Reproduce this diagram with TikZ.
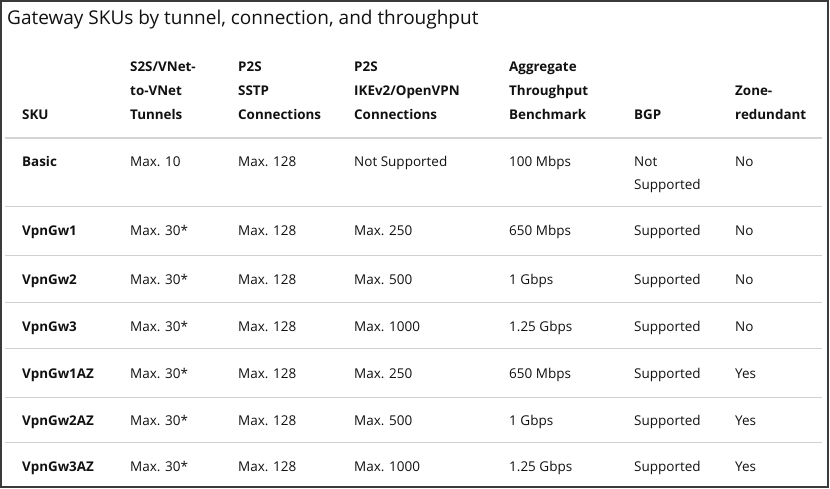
\documentclass[tikz,border=0pt]{standalone}
\usepackage{fontspec}
\setmainfont{Open Sans}
\definecolor{frame}{HTML}{3A3A3A}
\definecolor{hdrline}{HTML}{D4D4D4}
\definecolor{rowline}{HTML}{D0D0D0}
\definecolor{txt}{HTML}{111111}
\begin{document}
\begin{tikzpicture}[x=1pt,y=-1pt,
  cell/.style={anchor=base west,inner sep=0pt,text=txt,font=\fontsize{13.5}{24}\selectfont},
  hcell/.style={cell,font=\fontsize{13.4}{24}\selectfont\bfseries,align=left},
  skucell/.style={cell,font=\fontsize{13.4}{24}\selectfont\bfseries},
  title/.style={anchor=base west,inner sep=0pt,text=txt,font=\fontsize{19}{22}\selectfont}]
\useasboundingbox (0,0) rectangle (830,489);
\draw[frame,line width=1.4pt] (1,1) rectangle (828,487);
\node[title] (t) at (7,25) {Gateway SKUs by tunnel, connection, and throughput};
% header
\node[hcell] (h1) at (22,120) {SKU};
\node[hcell] (h2) at (130,72) {S2S/VNet-};
\node[hcell] (h2b) at (130,96) {to-VNet};
\node[hcell] (h2c) at (130,120) {Tunnels};
\node[hcell] (h3) at (238,72) {P2S};
\node[hcell] (h3b) at (238,96) {SSTP};
\node[hcell] (h3c) at (238,120) {Connections};
\node[hcell] (h4) at (354,72) {P2S};
\node[hcell] (h4b) at (354,96) {IKEv2/OpenVPN};
\node[hcell] (h4c) at (354,120) {Connections};
\node[hcell] (h5) at (509,72) {Aggregate};
\node[hcell] (h5b) at (509,96) {Throughput};
\node[hcell] (h5c) at (509,120) {Benchmark};
\node[hcell] (h6) at (634,120) {BGP};
\node[hcell] (h7) at (735,96) {Zone-};
\node[hcell] (h7b) at (735,120) {redundant};
\draw[hdrline,line width=2pt] (5,138) -- (822,138);
% rows
\foreach \y/\sku/\tun/\sstp/\ike/\thr/\bgp/\zone [count=\i] in {
  167/Basic/Max. 10/Max. 128/Not Supported/100 Mbps/Not/No,
  236/VpnGw1/Max. 30*/Max. 128/Max. 250/650 Mbps/Supported/No,
  284/VpnGw2/Max. 30*/Max. 128/Max. 500/1 Gbps/Supported/No,
  331/VpnGw3/Max. 30*/Max. 128/Max. 1000/1.25 Gbps/Supported/No,
  378/VpnGw1AZ/Max. 30*/Max. 128/Max. 250/650 Mbps/Supported/Yes,
  425/VpnGw2AZ/Max. 30*/Max. 128/Max. 500/1 Gbps/Supported/Yes,
  471/VpnGw3AZ/Max. 30*/Max. 128/Max. 1000/1.25 Gbps/Supported/Yes} {
  \node[skucell] (s\i) at (22,\y) {\sku};
  \node[cell] (a\i) at (130,\y) {\tun};
  \node[cell] (b\i) at (238,\y) {\sstp};
  \node[cell] (c\i) at (354,\y) {\ike};
  \node[cell] (d\i) at (509,\y) {\thr};
  \node[cell] (e\i) at (634,\y) {\bgp};
  \node[cell] (f\i) at (735,\y) {\zone};
}
\node[cell] (e1b) at (634,190) {Supported};
\foreach \y in {207,255,302,348,397,442} {
  \draw[rowline,line width=1pt] (5,\y) -- (822,\y);
}
\end{tikzpicture}
\end{document}
